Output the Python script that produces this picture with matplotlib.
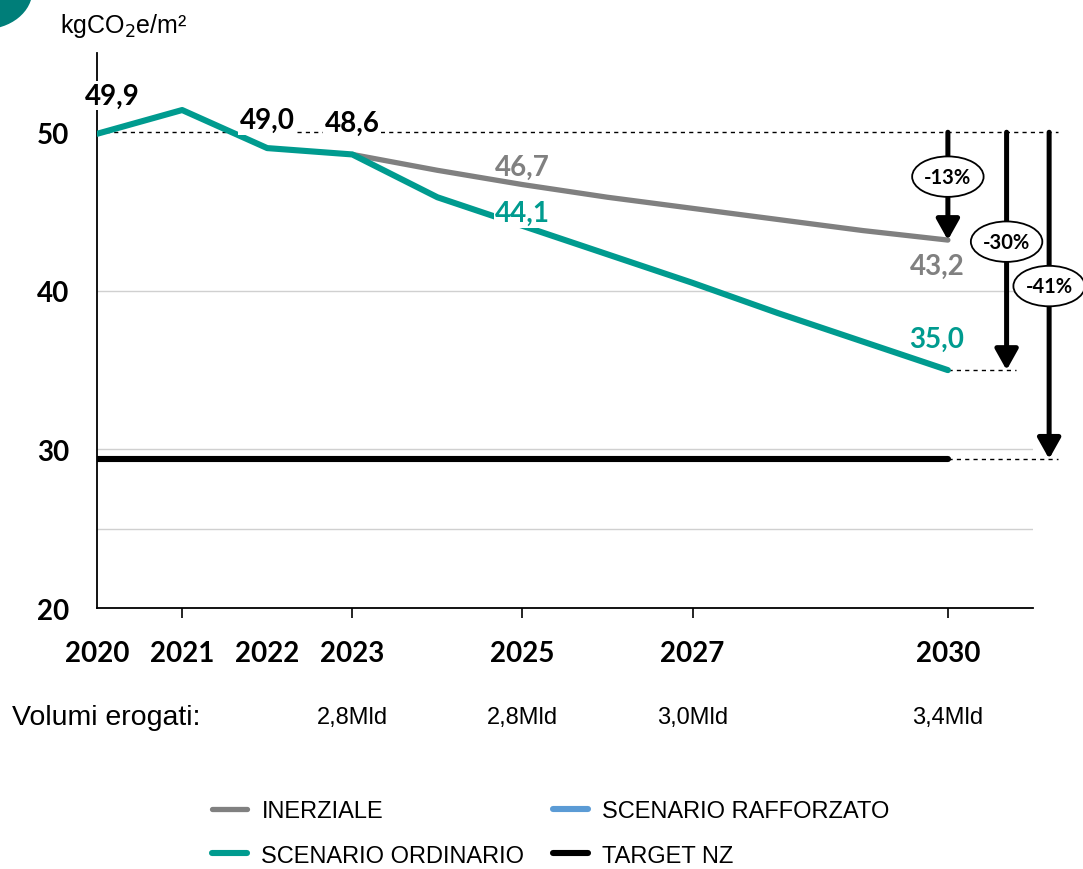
import matplotlib
matplotlib.use("Agg")
import matplotlib.pyplot as plt
from matplotlib.patches import Circle, Ellipse
from matplotlib.lines import Line2D

# data
years_ord = [2020, 2021, 2022, 2023, 2024, 2025, 2026, 2027, 2028, 2029, 2030]
ordinario = [49.9, 51.4, 49.0, 48.6, 45.9, 44.1, 42.3, 40.5, 38.6, 36.8, 35.0]
years_inz = [2023, 2024, 2025, 2026, 2027, 2028, 2029, 2030]
inerziale = [48.6, 47.6, 46.7, 45.9, 45.2, 44.5, 43.8, 43.2]
target_years = [2020, 2030]
target_nz = [29.4, 29.4]
base_value = 50.0

year_ticks = [2020, 2021, 2022, 2023, 2025, 2027, 2030]
volumi_years = [2023, 2025, 2027, 2030]
volumi = ["2,8Mld", "2,8Mld", "3,0Mld", "3,4Mld"]

reductions = ["-13%", "-30%", "-41%"]
red_x = [2030.0, 2030.69, 2031.19]
red_end = [43.2, 35.0, 29.4]
red_lab_y = [47.2, 43.1, 40.3]

TEAL = "#009B8F"
GREY = "#808080"
BLUE = "#5B9BD5"
NUM = ["Lato", "DejaVu Sans"]
ARIAL = ["Liberation Sans", "DejaVu Sans"]

AX_L, AX_W = 0.0896, 0.8642

fig = plt.figure(figsize=(10.83, 8.70), dpi=100)
ax = fig.add_axes([AX_L, 0.30, AX_W, 0.638])
ax.set_xlim(2020, 2031)
ax.set_ylim(20, 55)

for g in [25, 30, 40]:
    ax.axhline(g, color="#D0D0D0", lw=1, zorder=1)

# reference dashed lines
dash = dict(color="black", lw=1, ls=(0, (3, 3)), zorder=2, clip_on=False)
ax.plot([2020, 2031.3], [base_value, base_value], **dash)
ax.plot([2030, 2030.8], [35.0, 35.0], **dash)
ax.plot([2030, 2031.3], [29.4, 29.4], **dash)

l_inz, = ax.plot(years_inz, inerziale, color=GREY, lw=3.8, zorder=3,
                 solid_capstyle="round", label="INERZIALE")
l_ord, = ax.plot(years_ord, ordinario, color=TEAL, lw=4.4, zorder=4,
                 solid_capstyle="round", label="SCENARIO ORDINARIO")
l_tgt, = ax.plot(target_years, target_nz, color="black", lw=4.4, zorder=4,
                 solid_capstyle="round", label="TARGET NZ")
l_raf = Line2D([], [], color=BLUE, lw=4.4, solid_capstyle="round",
               label="SCENARIO RAFFORZATO")

# value labels
wb = dict(facecolor="white", edgecolor="none", pad=1)
lab = dict(fontsize=20, fontweight="bold", family=NUM, ha="center",
           va="center", zorder=6)
ax.text(2020.18, 52.3, "49,9", bbox=wb, **lab)
ax.text(2022.0, 50.75, "49,0", bbox=wb, **lab)
ax.text(2023.0, 50.6, "48,6", bbox=wb, **lab)
ax.text(2025.0, 47.8, "46,7", color=GREY, **lab)
ax.text(2025.0, 44.9, "44,1", color=TEAL, bbox=wb, **lab)
ax.text(2029.87, 41.6, "43,2", color=GREY, **lab)
ax.text(2029.87, 37.0, "35,0", color=TEAL, **lab)

# reduction arrows
for x, y1, ly, txt in zip(red_x, red_end, red_lab_y, reductions):
    ax.annotate("", xy=(x, y1), xytext=(x, base_value),
                arrowprops=dict(arrowstyle="-|>,head_length=1.25,head_width=0.7",
                                color="black", lw=3.6, shrinkA=0, shrinkB=0),
                annotation_clip=False, zorder=7)
    ax.add_patch(Ellipse((x, ly), 0.84, 2.55, facecolor="white",
                         edgecolor="black", lw=1.3, zorder=8, clip_on=False))
    ax.text(x, ly, txt, fontsize=14.5, fontweight="bold", family=NUM,
            ha="center", va="center", zorder=9)

# axes styling
for s in ["top", "right"]:
    ax.spines[s].set_visible(False)
ax.spines["left"].set_linewidth(1.3)
ax.spines["bottom"].set_linewidth(1.3)
ax.set_yticks([20, 30, 40, 50])
ax.set_yticklabels(["20", "30", "40", "50"], fontsize=20, fontweight="bold",
                   family=NUM)
ax.tick_params(axis="y", length=0, pad=20)
ax.set_xticks(year_ticks)
ax.set_xticklabels([str(y) for y in year_ticks], fontsize=20,
                   fontweight="bold", family=NUM)
ax.tick_params(axis="x", length=7, width=1.2, direction="out", pad=16)
for t in ax.xaxis.get_major_ticks():
    if t.get_loc() in (2020, 2022):
        t.tick1line.set_visible(False)

fig.text(0.055, 0.970, "kgCO$_2$e/m²", fontsize=18, family=ARIAL,
         ha="left", va="center")

fig.text(0.011, 0.175, "Volumi erogati:", fontsize=20.5, family=ARIAL,
         ha="left", va="center")
for yr, v in zip(volumi_years, volumi):
    xf = AX_L + AX_W * (yr - 2020) / 11
    fig.text(xf, 0.175, v, fontsize=17, family=ARIAL, ha="center",
             va="center")

fig.legend(handles=[l_inz, l_ord, l_raf, l_tgt], loc="center left",
           bbox_to_anchor=(0.176, 0.041), ncol=2, frameon=False,
           prop=dict(family=ARIAL, size=17), handlelength=1.5,
           handletextpad=0.6, columnspacing=1.2, labelspacing=0.95)

fig.patches.append(Circle((-0.015, 1.01), 0.045, transform=fig.transFigure,
                          facecolor="#007E79", edgecolor="none", figure=fig))

fig.savefig("out.png", dpi=100)
